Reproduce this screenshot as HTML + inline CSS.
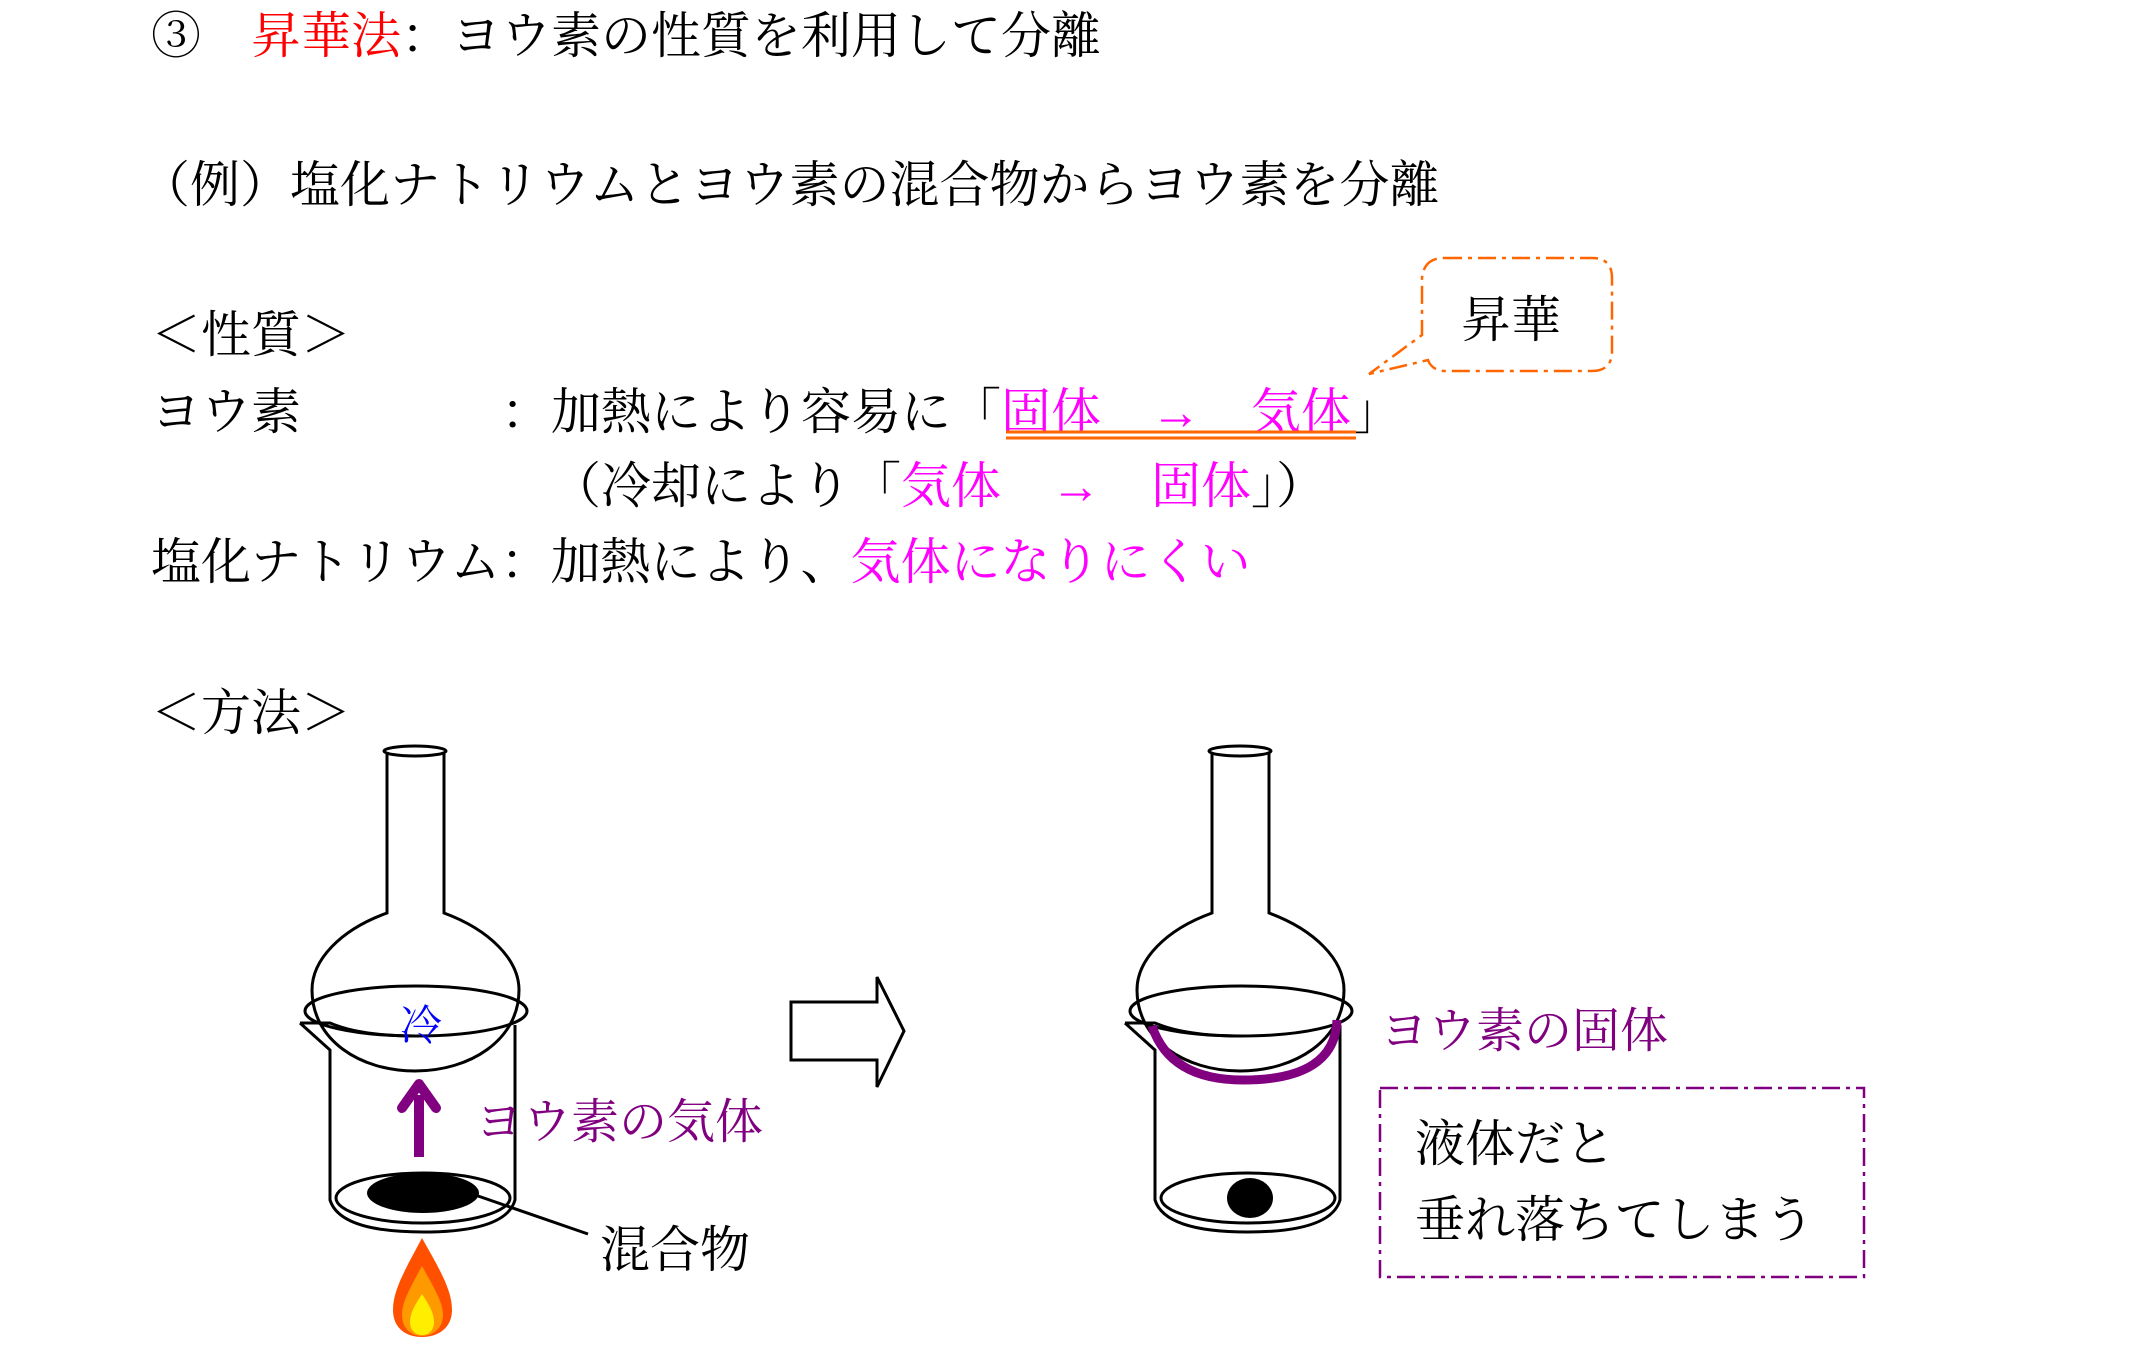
<!DOCTYPE html>
<html><head><meta charset="utf-8"><style>
html,body{margin:0;padding:0;background:#fff;}
svg{display:block;}
text{font-family:"Liberation Serif","Noto Serif CJK SC","Noto Sans CJK JP",serif;font-size:50px;}
</style></head><body>
<svg width="2147" height="1347" viewBox="0 0 2147 1347" xmlns="http://www.w3.org/2000/svg">
<text x="151" y="53">③　<tspan fill="#ff0000">昇華法</tspan>：ヨウ素の性質を利用して分離</text>
<text x="140" y="202">（例）塩化ナトリウムとヨウ素の混合物からヨウ素を分離</text>
<text x="151" y="352">＜性質＞</text>
<text x="151" y="429">ヨウ素</text>
<text x="501" y="429">：加熱により容易に「<tspan fill="#ff00ff">固体　→　気体</tspan>」</text>
<line x1="1006" y1="432" x2="1356" y2="432" stroke="#ff6600" stroke-width="3"/>
<line x1="1006" y1="438" x2="1356" y2="438" stroke="#ff6600" stroke-width="3"/>
<text x="551" y="503">（冷却により「<tspan fill="#ff00ff">気体　→　固体</tspan>」）</text>
<text x="151" y="579">塩化ナトリウム：加熱により、<tspan fill="#ff00ff">気体になりにくい</tspan></text>
<text x="151" y="730">＜方法＞</text>

<!-- callout -->
<path d="M1444 258 H1592 Q1612 258 1612 278 V351 Q1612 371 1592 371 H1446 Q1432 371 1428 360 L1369 374 L1422 335 V278 Q1424 258 1444 258 Z" fill="none" stroke="#ff6600" stroke-width="2.5" stroke-dasharray="18 6 4 6"/>
<text x="1461" y="337">昇華</text>

<!-- left apparatus -->
<g fill="none" stroke="#000" stroke-width="3">
  <ellipse cx="415" cy="751" rx="31" ry="5"/>
  <path d="M387 752 V913 C340 930 312 960 312 990 C312 1040 360 1071 415 1071 C470 1071 519 1040 519 990 C519 960 490 930 444 913 V752"/>
  <ellipse cx="416" cy="1011" rx="111" ry="25"/>
  <path d="M300 1023 L330 1050 V1200 Q340 1232 423 1232 Q506 1232 515 1200 V1025"/>
  <path d="M300 1023 H330 Q360 1036 416 1036"/>
  <ellipse cx="423" cy="1198" rx="87" ry="25"/>
  <line x1="478" y1="1196" x2="588" y2="1234"/>
</g>
<ellipse cx="423" cy="1193" rx="56" ry="20" fill="#000"/>
<text x="400" y="1040" fill="#0000ff" style="font-size:42px">冷</text>
<line x1="419" y1="1157" x2="419" y2="1095" stroke="#800080" stroke-width="10"/>
<polyline points="402,1108 419,1084 436,1108" fill="none" stroke="#800080" stroke-width="10" stroke-linecap="round" stroke-linejoin="round"/>
<text x="475" y="1138" fill="#800080" style="font-size:48px">ヨウ素の気体</text>
<text x="600" y="1267">混合物</text>
<!-- flame -->
<path d="M422 1238 C405 1270 393 1290 393 1310 C393 1328 406 1337 422 1337 C438 1337 452 1328 452 1310 C452 1290 440 1270 422 1238 Z" fill="#ff5000"/>
<path d="M422 1266 C410 1288 402 1302 402 1315 C402 1329 412 1336 422 1336 C432 1336 443 1329 443 1315 C443 1302 434 1288 422 1266 Z" fill="#ff9900"/>
<path d="M422 1294 C414 1306 410 1314 410 1322 C410 1330 415 1335 422 1335 C429 1335 434 1330 434 1322 C434 1314 430 1306 422 1294 Z" fill="#ffee00"/>

<!-- big arrow -->
<path d="M791 1002 H877 V977 L904 1031 L877 1087 V1060 H791 Z" fill="#fff" stroke="#000" stroke-width="3"/>

<!-- right apparatus -->
<g transform="translate(825,0)" fill="none" stroke="#000" stroke-width="3">
  <ellipse cx="415" cy="751" rx="31" ry="5"/>
  <path d="M387 752 V913 C340 930 312 960 312 990 C312 1040 360 1071 415 1071 C470 1071 519 1040 519 990 C519 960 490 930 444 913 V752"/>
  <ellipse cx="416" cy="1011" rx="111" ry="25"/>
  <path d="M300 1023 L330 1050 V1200 Q340 1232 423 1232 Q506 1232 515 1200 V1025"/>
  <path d="M300 1023 H330 Q360 1036 416 1036"/>
  <ellipse cx="423" cy="1198" rx="87" ry="25"/>
</g>
<path d="M1152 1026 Q1170 1080 1243 1080 Q1335 1080 1337 1020" fill="none" stroke="#800080" stroke-width="9"/>
<ellipse cx="1250" cy="1198" rx="23" ry="20" fill="#000"/>
<text x="1380" y="1047" fill="#800080" style="font-size:48px">ヨウ素の固体</text>
<rect x="1380" y="1088" width="484" height="189" fill="none" stroke="#800080" stroke-width="2.5" stroke-dasharray="18 6 4 6"/>
<text x="1415" y="1161">液体だと</text>
<text x="1415" y="1237">垂れ落ちてしまう</text>
</svg>
</body></html>
